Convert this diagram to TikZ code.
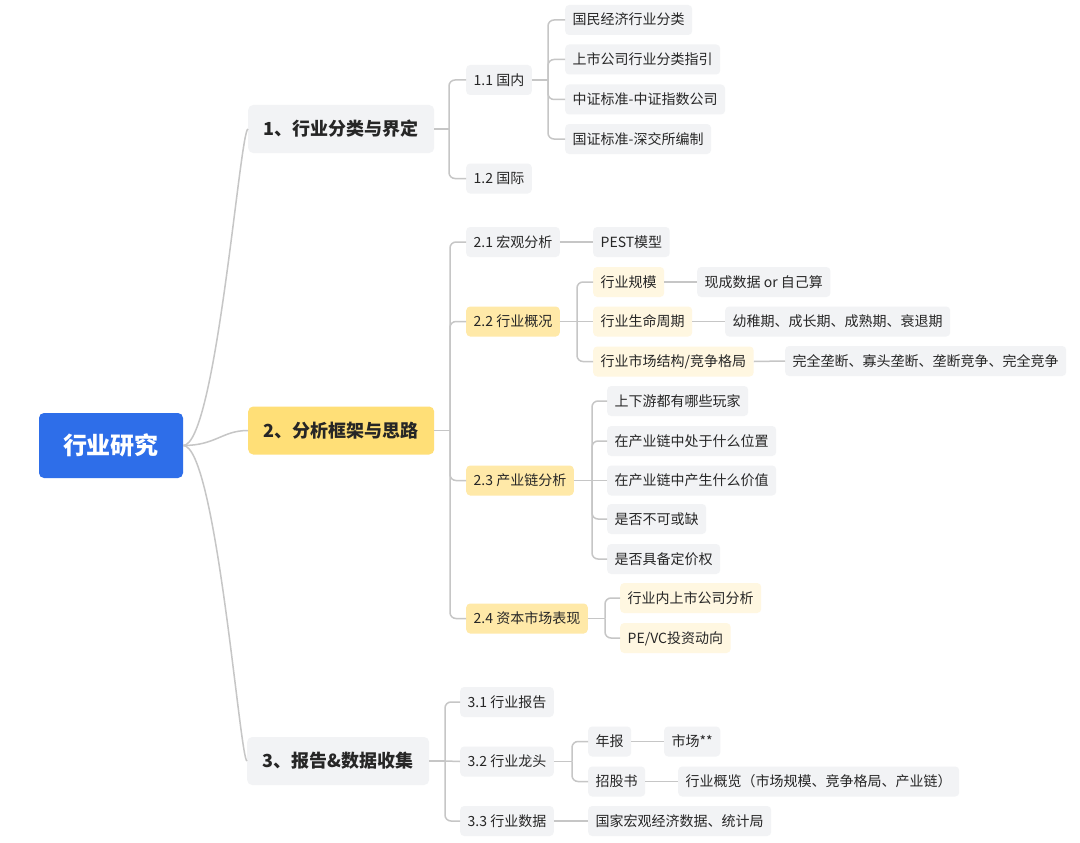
\documentclass[tikz,border=0pt]{standalone}
\usepackage{fontspec}
\setmainfont{Noto Sans CJK SC}
\definecolor{lc}{HTML}{C6C6C6}
\definecolor{txt}{HTML}{262626}
\definecolor{gry}{HTML}{F2F3F5}
\definecolor{yone}{HTML}{FFDF77}
\definecolor{ytwo}{HTML}{FFE9A8}
\definecolor{ythree}{HTML}{FFF7E1}
\definecolor{rootblue}{HTML}{2E6EE9}
\begin{document}
\begin{tikzpicture}[x=1pt,y=-1pt,
  base/.style={rounded corners=4pt, inner ysep=0pt, inner xsep=7.5pt, minimum height=30pt,
    font=\fontsize{14}{16}\selectfont, text=txt, anchor=west, text height=12pt, text depth=2pt},
  g/.style={base, fill=gry},
  ya/.style={base, fill=ytwo},
  yb/.style={base, fill=ythree},
  lone/.style={rounded corners=5pt, inner ysep=0pt, inner xsep=15.5pt, minimum height=48pt,
    font=\fontsize{18}{20}\selectfont\bfseries, text=txt, anchor=west, text height=15.5pt, text depth=2.5pt},
  rootbox/.style={rounded corners=5pt, fill=rootblue, text=white, minimum width=144pt, minimum height=65pt,
    inner sep=0pt, font=\fontsize{24}{26}\selectfont\bfseries, text height=21pt, text depth=3pt},
  conn/.style={draw=lc, line width=1.5pt, rounded corners=6pt},
  curve/.style={draw=lc, line width=1.5pt}
]
\useasboundingbox (0,0) rectangle (1080,843);
\fill[white] (0,0) rectangle (1080,843);

% root and level 1
\node[rootbox] (r) at (111,445.5) {行业研究};
\node[lone, fill=gry] (a) at (248,129) {1、行业分类与界定};
\node[lone, fill=yone] (b) at (248,430.5) {2、分析框架与思路};
\node[lone, fill=gry] (c) at (247,761) {3、报告\&数据收集};

% branch 1
\node[g] (a1) at (466,80) {1.1 国内};
\node[g] (a2) at (466,178.5) {1.2 国际};
\node[g] (a11) at (565,20) {国民经济行业分类};
\node[g] (a12) at (565,59.5) {上市公司行业分类指引};
\node[g] (a13) at (565,99.5) {中证标准-中证指数公司};
\node[g] (a14) at (565,139) {国证标准-深交所编制};

% branch 2
\node[g] (b1) at (466,242) {2.1 宏观分析};
\node[g] (b11) at (593,242) {PEST模型};
\node[ya] (b2) at (466,321.5) {2.2 行业概况};
\node[yb] (b21) at (593,282) {行业规模};
\node[yb] (b22) at (593,321.5) {行业生命周期};
\node[yb] (b23) at (593,361.5) {行业市场结构/竞争格局};
\node[g] (b211) at (697,282) {现成数据 or 自己算};
\node[g] (b221) at (725,321.5) {幼稚期、成长期、成熟期、衰退期};
\node[g] (b231) at (785,361) {完全垄断、寡头垄断、垄断竞争、完全竞争};
\node[ya] (b3) at (466,480.5) {2.3 产业链分析};
\node[g] (b31) at (607,401) {上下游都有哪些玩家};
\node[g] (b32) at (607,441) {在产业链中处于什么位置};
\node[g] (b33) at (607,480.5) {在产业链中产生什么价值};
\node[g] (b34) at (607,519) {是否不可或缺};
\node[g] (b35) at (607,559) {是否具备定价权};
\node[ya] (b4) at (466,618.5) {2.4 资本市场表现};
\node[yb] (b41) at (620,598) {行业内上市公司分析};
\node[yb] (b42) at (620,638) {PE/VC投资动向};

% branch 3
\node[g] (c1) at (460,702) {3.1 行业报告};
\node[g] (c2) at (460,761.5) {3.2 行业龙头};
\node[g] (c3) at (460,821) {3.3 行业数据};
\node[g] (c21) at (588,741.5) {年报};
\node[g] (c22) at (588,781.5) {招股书};
\node[g] (c211) at (664,741.5) {市场**};
\node[g] (c221) at (678,781.5) {行业概览（市场规模、竞争格局、产业链）};
\node[g] (c31) at (588,821) {国家宏观经济数据、统计局};

% junctions
\coordinate (ja) at (449,129);
\coordinate (ja1) at (548,80);
\coordinate (jb) at (450,430.5);
\coordinate (jb2) at (577,321.5);
\coordinate (jb3) at (592,480.5);
\coordinate (jb4) at (605,618.5);
\coordinate (jc) at (445,761);
\coordinate (jc2) at (572,761.5);

% root curves
\draw[curve] (r.east) .. controls (216,445.5) and (240,129) .. (a.west);
\draw[curve] (r.east) .. controls (216,445.5) and (222,430.5) .. (b.west);
\draw[curve] (r.east) .. controls (216,445.5) and (240,761) .. (c.west);

% branch 1 connectors
\draw[conn] (a.east) -- (ja);
\draw[conn] (ja) |- (a1.west);
\draw[conn] (ja) |- (a2.west);
\draw[conn] (a1.east) -- (ja1);
\draw[conn] (ja1) |- (a11.west);
\draw[conn] (ja1) |- (a12.west);
\draw[conn] (ja1) |- (a13.west);
\draw[conn] (ja1) |- (a14.west);

% branch 2 connectors
\draw[conn] (b.east) -- (jb);
\draw[conn] (jb) |- (b1.west);
\draw[conn] (jb) |- (b2.west);
\draw[conn] (jb) |- (b3.west);
\draw[conn] (jb) |- (b4.west);
\draw[conn] (b1.east) -- (b11.west);
\draw[conn] (b2.east) -- (jb2);
\draw[conn] (jb2) |- (b21.west);
\draw[conn] (jb2) -- (b22.west);
\draw[conn] (jb2) |- (b23.west);
\draw[conn] (b21.east) -- (b211.west);
\draw[conn] (b22.east) -- (b221.west);
\draw[conn] (b23.east) -- (b231.west);
\draw[conn] (b3.east) -- (jb3);
\draw[conn] (jb3) |- (b31.west);
\draw[conn] (jb3) |- (b32.west);
\draw[conn] (jb3) -- (b33.west);
\draw[conn] (jb3) |- (b34.west);
\draw[conn] (jb3) |- (b35.west);
\draw[conn] (b4.east) -- (jb4);
\draw[conn] (jb4) |- (b41.west);
\draw[conn] (jb4) |- (b42.west);

% branch 3 connectors
\draw[conn] (c.east) -- (jc);
\draw[conn] (jc) |- (c1.west);
\draw[conn] (jc) -- (c2.west);
\draw[conn] (jc) |- (c3.west);
\draw[conn] (c2.east) -- (jc2);
\draw[conn] (jc2) |- (c21.west);
\draw[conn] (jc2) |- (c22.west);
\draw[conn] (c21.east) -- (c211.west);
\draw[conn] (c22.east) -- (c221.west);
\draw[conn] (c3.east) -- (c31.west);
\end{tikzpicture}
\end{document}
